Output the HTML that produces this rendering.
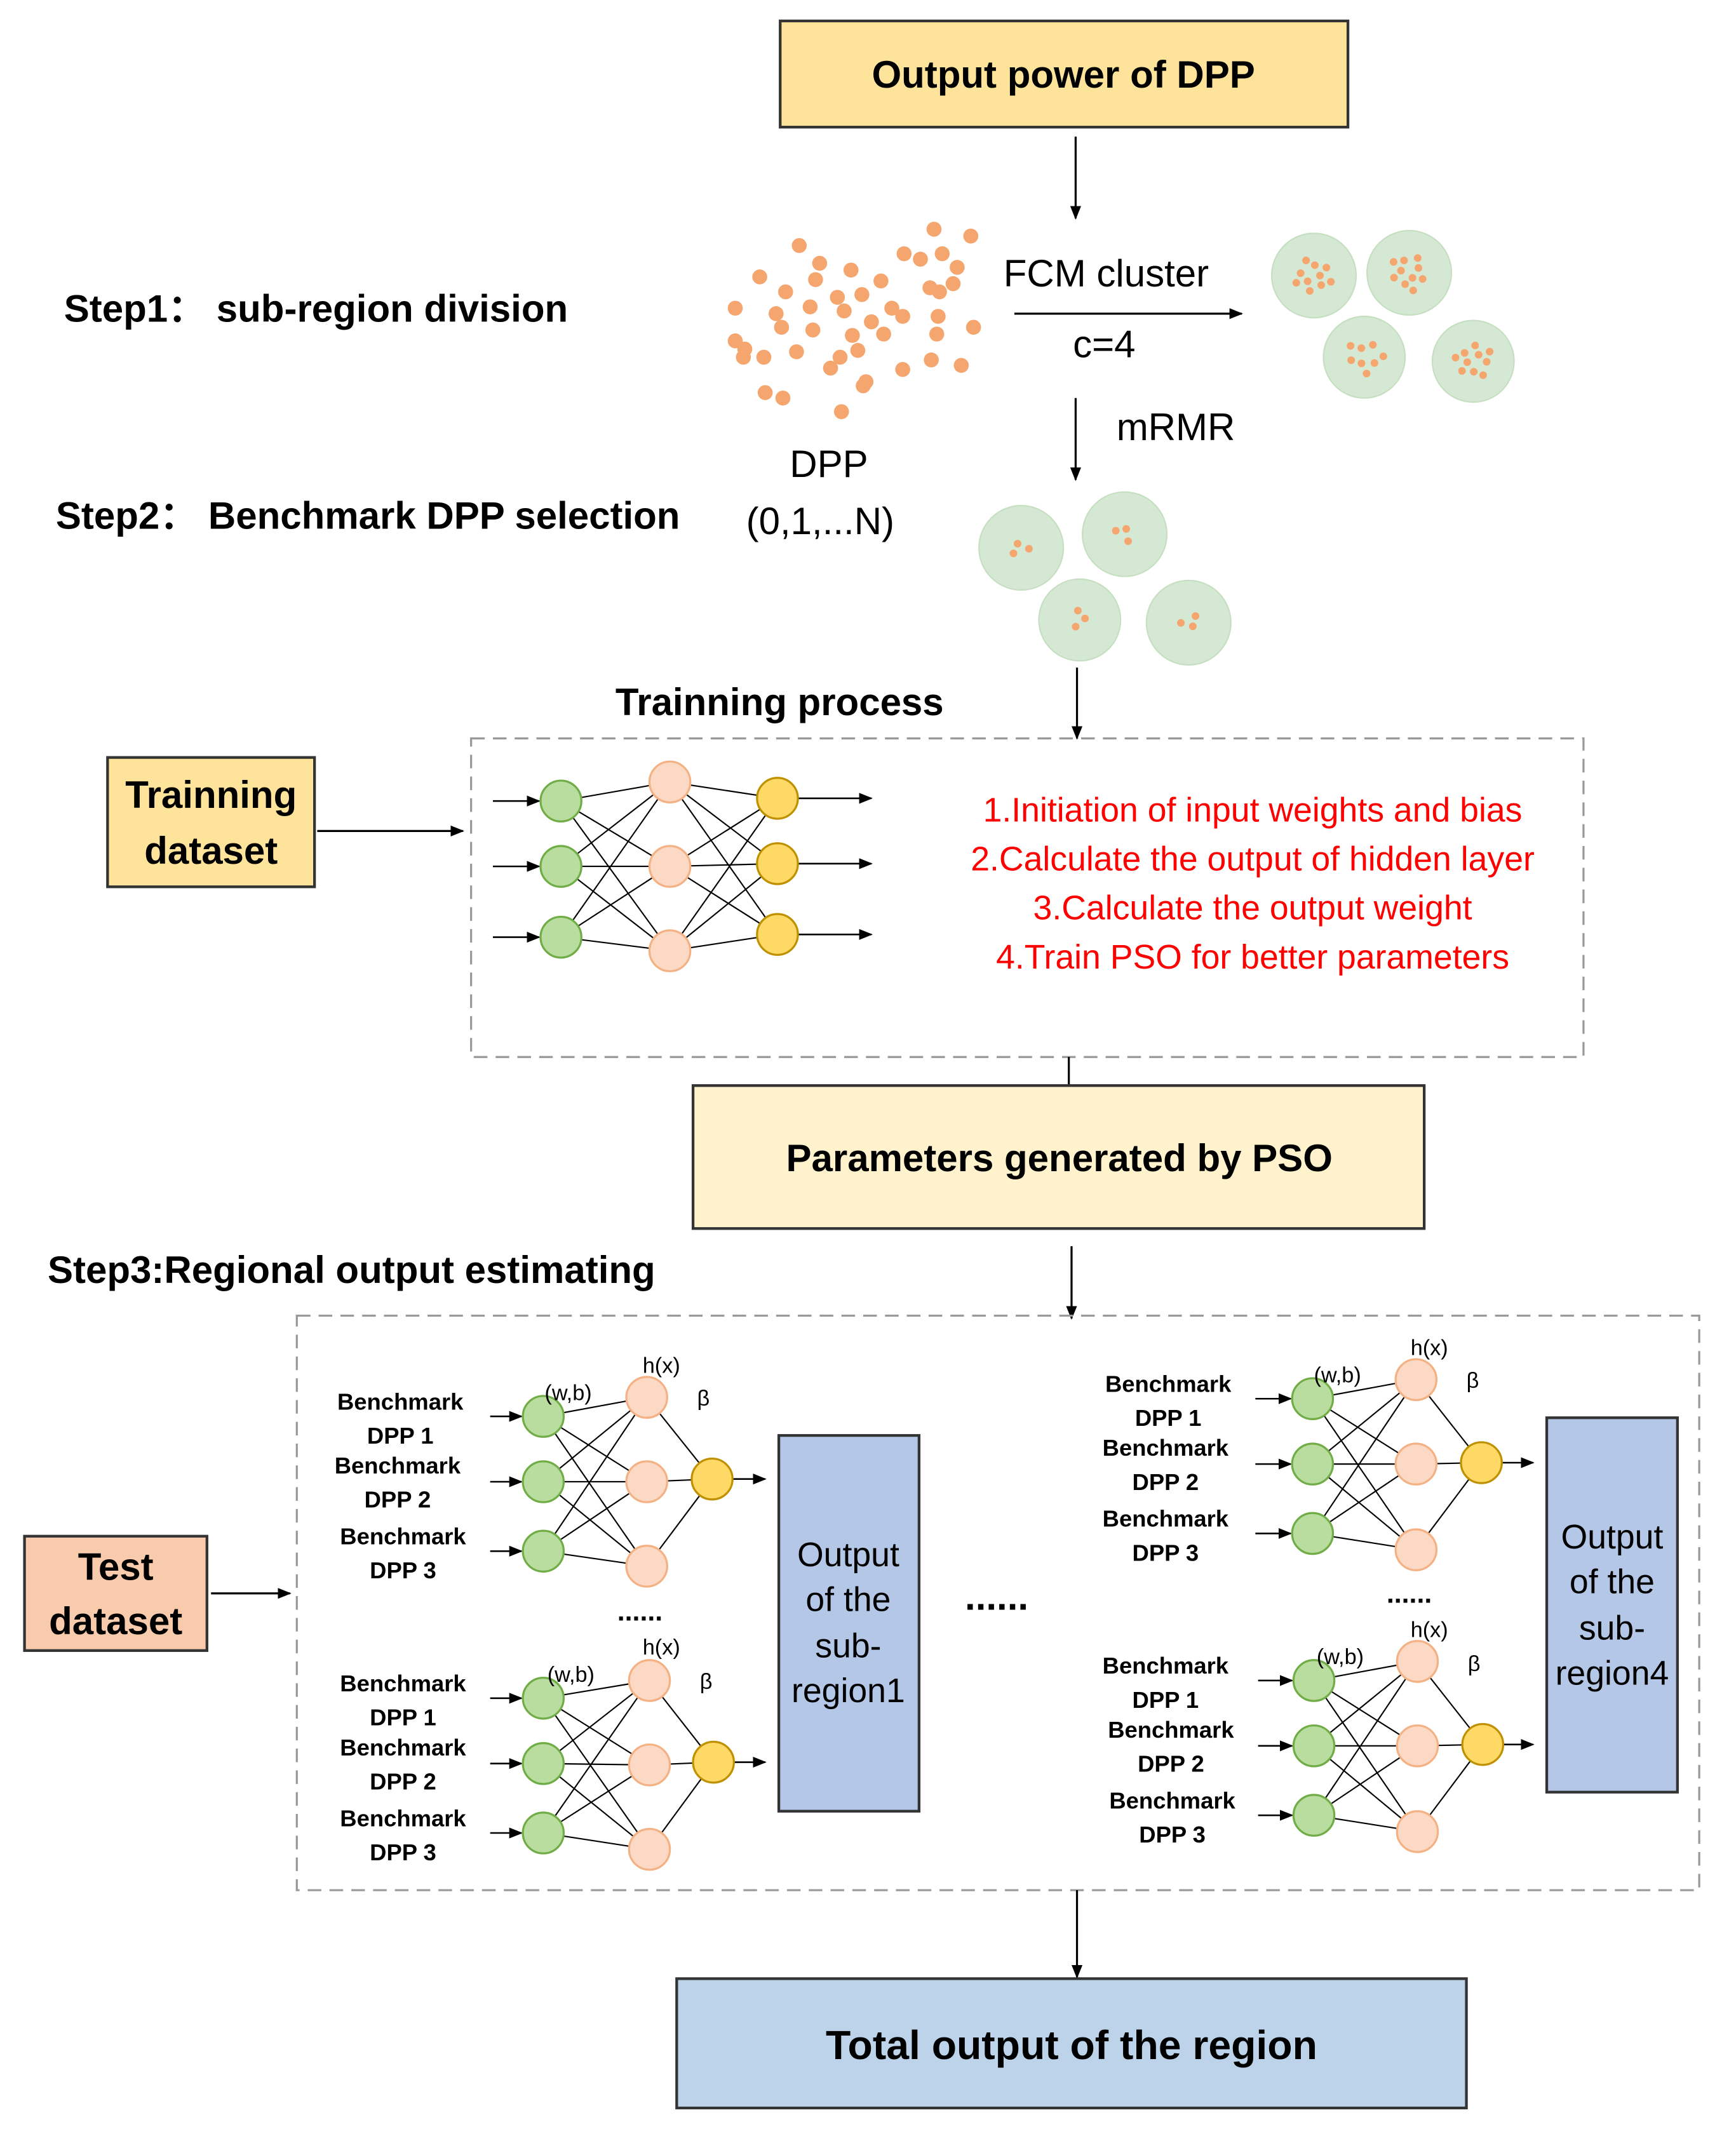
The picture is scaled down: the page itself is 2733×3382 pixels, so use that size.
<!DOCTYPE html>
<html><head><meta charset="utf-8">
<style>
html,body{margin:0;padding:0;background:#fff;}
svg{display:block;}
text{font-family:"Liberation Sans",sans-serif;}
.b{font-weight:bold;}
</style></head>
<body>
<svg id="s" xmlns="http://www.w3.org/2000/svg" width="2733" height="3382" viewBox="0 0 1275 1577">
<defs>
<marker id="a" markerWidth="10" markerHeight="8" refX="9" refY="4" orient="auto" markerUnits="userSpaceOnUse">
<path d="M0,0 L10,4 L0,8 z" fill="#000"/></marker>
</defs>
<rect width="1275" height="1577" fill="#fff"/>
<rect x="573" y="15" width="417" height="78" fill="#fde49a" stroke="#333" stroke-width="2"/>
<text x="781" y="64" font-size="28" class="b" text-anchor="middle">Output power of DPP</text>
<line x1="790" y1="100" x2="790" y2="160" stroke="#000" stroke-width="1.5" marker-end="url(#a)"/>
<text x="47" y="236" font-size="28" class="b">Step1：  sub-region division</text>
<g id="dots"></g>
<text x="737" y="210" font-size="28">FCM cluster</text>
<line x1="745" y1="230" x2="912" y2="230" stroke="#000" stroke-width="1.5" marker-end="url(#a)"/>
<text x="788" y="262" font-size="28">c=4</text>
<line x1="790" y1="292" x2="790" y2="352" stroke="#000" stroke-width="1.5" marker-end="url(#a)"/>
<text x="820" y="323" font-size="28">mRMR</text>
<text x="580" y="350" font-size="28">DPP</text>
<text x="548" y="392" font-size="28">(0,1,...N)</text>
<text x="41" y="388" font-size="28" class="b">Step2：  Benchmark DPP selection</text>
<line x1="791" y1="490" x2="791" y2="542" stroke="#000" stroke-width="1.5" marker-end="url(#a)"/>
<text x="452" y="525" font-size="28" class="b">Trainning process</text>
<rect x="346" y="542" width="817" height="234" fill="none" stroke="#999" stroke-width="1.5" stroke-dasharray="10,6"/>
<rect x="79" y="556" width="152" height="95" fill="#fde49a" stroke="#333" stroke-width="2"/>
<text x="155" y="593" font-size="28" class="b" text-anchor="middle">Trainning</text>
<text x="155" y="634" font-size="28" class="b" text-anchor="middle">dataset</text>
<line x1="233" y1="610" x2="340" y2="610" stroke="#000" stroke-width="1.5" marker-end="url(#a)"/>
<g fill="#f00" font-size="25" text-anchor="middle">
<text x="920" y="603">1.Initiation of input weights and bias</text>
<text x="920" y="639">2.Calculate the output of hidden layer</text>
<text x="920" y="675">3.Calculate the output weight</text>
<text x="920" y="711">4.Train PSO for better parameters</text>
</g>
<line x1="785" y1="776" x2="785" y2="797" stroke="#000" stroke-width="1.5"/>
<rect x="509" y="797" width="537" height="105" fill="#fff2cc" stroke="#333" stroke-width="2"/>
<text x="778" y="860" font-size="28" class="b" text-anchor="middle">Parameters generated by PSO</text>
<text x="35" y="942" font-size="28" class="b">Step3:Regional output estimating</text>
<line x1="787" y1="915" x2="787" y2="968" stroke="#000" stroke-width="1.5" marker-end="url(#a)"/>
<rect x="218" y="966" width="1030" height="422" fill="none" stroke="#999" stroke-width="1.5" stroke-dasharray="10,6"/>
<rect x="18" y="1128" width="134" height="84" fill="#f8cbad" stroke="#333" stroke-width="2"/>
<text x="85" y="1160" font-size="28" class="b" text-anchor="middle">Test</text>
<text x="85" y="1200" font-size="28" class="b" text-anchor="middle">dataset</text>
<line x1="155" y1="1170" x2="213" y2="1170" stroke="#000" stroke-width="1.5" marker-end="url(#a)"/>
<rect x="572" y="1054" width="103" height="276" fill="#b4c7e7" stroke="#333" stroke-width="2"/>
<rect x="1136" y="1041" width="96" height="275" fill="#b4c7e7" stroke="#333" stroke-width="2"/>
<g font-size="25" text-anchor="middle">
<text x="623" y="1150">Output</text><text x="623" y="1183">of the</text><text x="623" y="1217">sub-</text><text x="623" y="1250">region1</text>
<text x="1184" y="1137">Output</text><text x="1184" y="1170">of the</text><text x="1184" y="1204">sub-</text><text x="1184" y="1237">region4</text>
</g>
<text x="470" y="1190" font-size="20" class="b" text-anchor="middle">......</text>
<text x="1035" y="1177" font-size="20" class="b" text-anchor="middle">......</text>
<text x="732" y="1182" font-size="28" class="b" text-anchor="middle">......</text>
<g id="nets"></g>
<g font-size="17" class="b" text-anchor="middle">
<text x="294" y="1035">Benchmark</text><text x="294" y="1060">DPP 1</text>
<text x="292" y="1082">Benchmark</text><text x="292" y="1107">DPP 2</text>
<text x="296" y="1134">Benchmark</text><text x="296" y="1159">DPP 3</text>
<text x="296" y="1242">Benchmark</text><text x="296" y="1267">DPP 1</text>
<text x="296" y="1289">Benchmark</text><text x="296" y="1314">DPP 2</text>
<text x="296" y="1341">Benchmark</text><text x="296" y="1366">DPP 3</text>
<text x="858" y="1022">Benchmark</text><text x="858" y="1047">DPP 1</text>
<text x="856" y="1069">Benchmark</text><text x="856" y="1094">DPP 2</text>
<text x="856" y="1121">Benchmark</text><text x="856" y="1146">DPP  3</text>
<text x="856" y="1229">Benchmark</text><text x="856" y="1254">DPP  1</text>
<text x="860" y="1276">Benchmark</text><text x="860" y="1301">DPP 2</text>
<text x="861" y="1328">Benchmark</text><text x="861" y="1353">DPP 3</text>
</g>
<g font-family="Liberation Serif" font-size="16">
<text x="400" y="1028">(w,b)</text><text x="472" y="1008">h(x)</text><text x="512" y="1032">β</text>
<text x="402" y="1235">(w,b)</text><text x="472" y="1215">h(x)</text><text x="514" y="1240">β</text>
<text x="965" y="1015">(w,b)</text><text x="1036" y="995">h(x)</text><text x="1077" y="1019">β</text>
<text x="967" y="1222">(w,b)</text><text x="1036" y="1202">h(x)</text><text x="1078" y="1227">β</text>
</g>
<line x1="791" y1="1388" x2="791" y2="1452" stroke="#000" stroke-width="1.5" marker-end="url(#a)"/>
<rect x="497" y="1453" width="580" height="95" fill="#bdd3ea" stroke="#333" stroke-width="2"/>
<text x="787" y="1512" font-size="30" class="b" text-anchor="middle">Total output of the region</text>
</svg>
<script>
var NS="http://www.w3.org/2000/svg";
function el(p,t,a){var e=document.createElementNS(NS,t);for(var k in a)e.setAttribute(k,a[k]);p.appendChild(e);return e;}
var dots=document.getElementById("dots");
var pts=[[686,168],[713,173],[587,180],[664,186],[676,190],[692,186],[703,196],[602,193],[625,198],[558,203],[647,206],[700,208],[683,211],[690,214],[577,214],[615,218],[633,216],[540,226],[595,225],[620,228],[655,226],[663,232],[574,240],[597,242],[640,236],[689,232],[715,240],[547,256],[561,262],[585,258],[617,262],[630,257],[663,271],[684,264],[706,268],[546,262],[610,270],[636,280],[634,283],[562,288],[575,292],[618,302],[540,250],[688,245],[599,205],[570,230],[649,245],[626,246]];
pts.forEach(function(p){el(dots,"circle",{cx:p[0],cy:p[1],r:5.5,fill:"#f5a66f"});});
var green=[[965,202,31,10],[1035,200,31,10],[1002,262,30,8],[1082,265,30,10],[750,402,31,3],[826,392,31,3],[793,455,30,3],[873,457,31,3]];
green.forEach(function(g,i){el(dots,"circle",{cx:g[0],cy:g[1],r:g[2],fill:"#d5e8d4",stroke:"#c5dfc0"});
for(var j=0;j<g[3];j++){var ang=j*2.4+i,rr=(g[3]>3?14:7)*Math.sqrt((j+1)/g[3]);el(dots,"circle",{cx:g[0]+rr*Math.cos(ang),cy:g[1]+rr*Math.sin(ang),r:2.8,fill:"#f5a66f"});}});
var nets=document.getElementById("nets");
function net(ins,hid,outs,r,inStart,outEnd){
 ins.forEach(function(a){hid.forEach(function(b){el(nets,"line",{x1:a[0],y1:a[1],x2:b[0],y2:b[1],stroke:"#000","stroke-width":1});});
   el(nets,"line",{x1:inStart,y1:a[1],x2:a[0]-r-1,y2:a[1],stroke:"#000","stroke-width":1.2,"marker-end":"url(#a)"});});
 hid.forEach(function(a){outs.forEach(function(b){el(nets,"line",{x1:a[0],y1:a[1],x2:b[0],y2:b[1],stroke:"#000","stroke-width":1});});});
 outs.forEach(function(b){el(nets,"line",{x1:b[0]+r,y1:b[1],x2:outEnd,y2:b[1],stroke:"#000","stroke-width":1.2,"marker-end":"url(#a)"});});
 ins.forEach(function(a){el(nets,"circle",{cx:a[0],cy:a[1],r:r,fill:"#b9dc9f",stroke:"#70ad47","stroke-width":1.5});});
 hid.forEach(function(a){el(nets,"circle",{cx:a[0],cy:a[1],r:r,fill:"#fbd9c4",stroke:"#f4b183","stroke-width":1.5});});
 outs.forEach(function(a){el(nets,"circle",{cx:a[0],cy:a[1],r:r,fill:"#ffd966",stroke:"#bf9000","stroke-width":1.5});});
}
net([[412,588],[412,636],[412,688]],[[492,574],[492,636],[492,698]],[[571,586],[571,634],[571,686]],15,362,640);
net([[399,1040],[399,1088],[399,1139]],[[475,1026],[475,1088],[475,1150]],[[523,1086]],15,360,562);
net([[399,1247],[399,1295],[399,1346]],[[477,1234],[477,1296],[477,1358]],[[524,1294]],15,360,562);
net([[964,1027],[964,1075],[964,1126]],[[1040,1013],[1040,1075],[1040,1138]],[[1088,1074]],15,922,1126);
net([[965,1234],[965,1282],[965,1333]],[[1041,1220],[1041,1282],[1041,1345]],[[1089,1281]],15,924,1126);
</script>
</body></html>
